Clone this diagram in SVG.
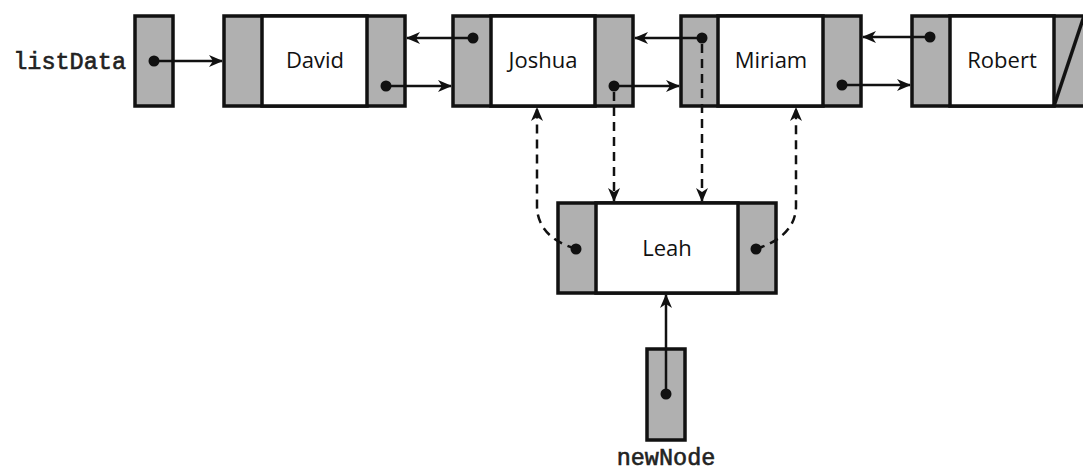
<svg xmlns="http://www.w3.org/2000/svg" width="1083" height="472" viewBox="0 0 1083 472">
<defs>
<style>
.g{fill:#b0b0b0;stroke:#111;stroke-width:3.5}
.w{fill:#fff;stroke:#111;stroke-width:3.5}
.ln{stroke:#111;stroke-width:2.5;fill:none}
.ds{stroke:#111;stroke-width:2.5;fill:none;stroke-dasharray:9 6}
.dot{fill:#111}
.lbl{font-family:"Open Sans","Noto Sans",sans-serif;font-size:22px;font-weight:500;fill:#111;text-anchor:middle}
.mono{font-family:"Liberation Mono","DejaVu Sans Mono",monospace;font-size:23.5px;fill:#222;stroke:#222;stroke-width:0.6}
</style>
<marker id="ah" viewBox="0 0 14 12" refX="13" refY="6" markerWidth="14" markerHeight="12" markerUnits="userSpaceOnUse" orient="auto">
<path d="M0,0 L14,6 L0,12 L4,6 z" fill="#111"/>
</marker>
</defs>
<rect width="1083" height="472" fill="#fff"/>

<g id="listData">
<text class="mono" x="126" y="69" text-anchor="end">listData</text>
<rect class="g" x="135" y="16" width="38" height="90"/>
</g>

<g id="david">
<rect class="g" x="224" y="16" width="181" height="90"/>
<rect class="w" x="262" y="16" width="105" height="90"/>
<text class="lbl" x="315" y="68">David</text>
</g>

<g id="joshua">
<rect class="g" x="453" y="16" width="180" height="90"/>
<rect class="w" x="491" y="16" width="104" height="90"/>
<text class="lbl" x="543" y="68">Joshua</text>
</g>

<g id="miriam">
<rect class="g" x="681" y="16" width="180" height="90"/>
<rect class="w" x="718" y="16" width="105" height="90"/>
<text class="lbl" x="771" y="68">Miriam</text>
</g>

<g id="robert">
<rect class="g" x="912" y="16" width="182" height="90"/>
<rect class="w" x="950" y="16" width="104" height="90"/>
<text class="lbl" x="1002" y="68">Robert</text>
<line x1="1054" y1="106" x2="1084" y2="16" stroke="#111" stroke-width="3.5"/>
</g>

<g id="leah">
<rect class="g" x="558" y="203" width="218" height="90"/>
<rect class="w" x="596" y="203" width="142" height="90"/>
<text class="lbl" x="667" y="256">Leah</text>
</g>

<g id="newNode">
<rect class="g" x="647" y="349" width="38" height="91"/>
<text class="mono" x="666" y="465" text-anchor="middle">newNode</text>
</g>

<g id="connectors">
<line class="ln" x1="154" y1="61" x2="222" y2="61" marker-end="url(#ah)"/>
<line class="ln" x1="386" y1="86" x2="451" y2="86" marker-end="url(#ah)"/>
<line class="ln" x1="473" y1="38" x2="407" y2="38" marker-end="url(#ah)"/>
<line class="ln" x1="614" y1="86" x2="679" y2="86" marker-end="url(#ah)"/>
<line class="ln" x1="702" y1="38" x2="635" y2="38" marker-end="url(#ah)"/>
<line class="ln" x1="842" y1="85" x2="910" y2="85" marker-end="url(#ah)"/>
<line class="ln" x1="930" y1="37" x2="863" y2="37" marker-end="url(#ah)"/>
<line class="ds" x1="614" y1="92" x2="614" y2="201" marker-end="url(#ah)"/>
<line class="ds" x1="702" y1="44" x2="702" y2="201" marker-end="url(#ah)"/>
<path class="ds" d="M576,249 C550,241 537,226 537,206 L537,108" marker-end="url(#ah)"/>
<path class="ds" d="M756,249 C782,241 796,226 796,206 L796,108" marker-end="url(#ah)"/>
<line class="ln" x1="666" y1="394" x2="666" y2="295" marker-end="url(#ah)"/>
<circle class="dot" cx="154" cy="61" r="5.5"/>
<circle class="dot" cx="386" cy="86" r="5.5"/>
<circle class="dot" cx="473" cy="38" r="5.5"/>
<circle class="dot" cx="614" cy="86" r="5.5"/>
<circle class="dot" cx="702" cy="38" r="5.5"/>
<circle class="dot" cx="842" cy="85" r="5.5"/>
<circle class="dot" cx="930" cy="37" r="5.5"/>
<circle class="dot" cx="576" cy="249" r="5.5"/>
<circle class="dot" cx="756" cy="249" r="5.5"/>
<circle class="dot" cx="666" cy="394" r="5.5"/>
</g>
</svg>
